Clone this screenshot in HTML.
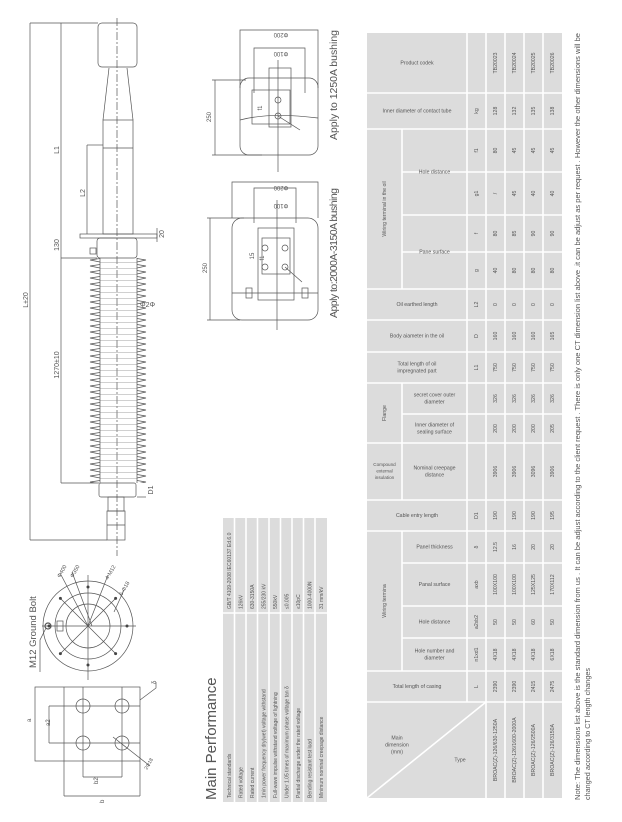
<!DOCTYPE html>
<html><head><meta charset="utf-8"><style>
html,body{margin:0;padding:0;background:#fff}
svg{display:block}
text{font-family:"Liberation Sans",sans-serif;fill:#555}
.t{font-size:5.2px;text-anchor:middle;dominant-baseline:middle}
.d{stroke:#555;stroke-width:.7;fill:none}
.w{stroke:#fff;stroke-width:1.6}
</style></head><body>
<svg width="622" height="822" viewBox="0 0 622 822" xmlns="http://www.w3.org/2000/svg">
<defs>
<pattern id="shed" patternUnits="userSpaceOnUse" x="88" y="258" width="60" height="6">
<path d="M12 0.5 L2 2 L12 4" stroke="#555" stroke-width=".7" fill="none"/>
<path d="M49 0.5 L58 2 L49 4" stroke="#555" stroke-width=".7" fill="none"/>
<line x1="12" y1="4.5" x2="49" y2="4.5" stroke="#888" stroke-width=".4"/>
</pattern>
</defs>

<!-- ===== bushing drawing ===== -->
<g class="d">
<line x1="117" y1="18" x2="117" y2="556" stroke-dasharray="8 2 2 2"/>
<rect x="98" y="23" width="39" height="44" rx="4"/>
<path d="M109 68 L103 120 M127 68 L133 120"/>
<rect x="103" y="120" width="30" height="114"/>
<line x1="103" y1="148" x2="133" y2="148"/>
<rect x="80" y="234" width="77" height="4"/>
<rect x="97" y="238" width="40" height="20" rx="3"/>
<rect x="90" y="248" width="6" height="6"/>
<rect x="88" y="258" width="60" height="225" fill="url(#shed)" stroke="none"/>
<line x1="100" y1="258" x2="100" y2="483"/><line x1="137" y1="258" x2="137" y2="483"/>
<rect x="99" y="483" width="37" height="14" rx="2"/>
<rect x="108" y="497" width="16" height="14"/>
<rect x="107" y="511" width="18" height="29"/>
<line x1="107" y1="525" x2="125" y2="525"/>
<!-- dims -->
<line x1="30" y1="23" x2="30" y2="540"/><line x1="30" y1="23" x2="98" y2="23"/><line x1="30" y1="540" x2="107" y2="540"/>
<line x1="61" y1="23" x2="61" y2="483"/><line x1="61" y1="258" x2="97" y2="258"/><line x1="61" y1="483" x2="99" y2="483"/>
<line x1="87" y1="145" x2="87" y2="234"/><line x1="87" y1="145" x2="103" y2="145"/>
<line x1="157" y1="228" x2="157" y2="242"/>
<line x1="137" y1="497" x2="146" y2="497"/>
</g>
<g font-size="7">
<text transform="translate(30,300) rotate(-90)" text-anchor="middle" dy="-2">L±20</text>
<text transform="translate(61,150) rotate(-90)" text-anchor="middle" dy="-2">L1</text>
<text transform="translate(61,245) rotate(-90)" text-anchor="middle" dy="-2">130</text>
<text transform="translate(61,365) rotate(-90)" text-anchor="middle" dy="-2">1270±10</text>
<text transform="translate(87,193) rotate(-90)" text-anchor="middle" dy="-2">L2</text>
<text transform="translate(157,234) rotate(-90)" text-anchor="middle" dy="7">20</text>
<text transform="translate(146,490) rotate(-90)" text-anchor="middle" dy="7">D1</text>
<text x="140" y="307">Φ2Φ</text>
</g>

<!-- ===== flange view ===== -->
<g class="d">
<circle cx="88" cy="626" r="45"/><circle cx="88" cy="626" r="33"/><circle cx="88" cy="626" r="22"/>
<line x1="42" y1="626" x2="136" y2="626"/><line x1="88" y1="575" x2="88" y2="680"/>
<line x1="60" y1="598" x2="116" y2="654"/><line x1="116" y1="598" x2="60" y2="654"/>
<line x1="60" y1="573" x2="88" y2="626"/><line x1="72" y1="572" x2="92" y2="626"/>
<line x1="108" y1="575" x2="88" y2="626"/><line x1="124" y1="590" x2="114" y2="612"/>
<rect x="57" y="621" width="6" height="10"/>
<circle cx="48" cy="626" r="3" stroke-width="1.2"/>
<path d="M46 628 L40 640 L40 672"/>
</g>
<g fill="#444">
<circle cx="127" cy="626" r="1.5"/><circle cx="49" cy="626" r="1.5"/><circle cx="88" cy="587" r="1.5"/><circle cx="88" cy="665" r="1.5"/>
<circle cx="115.6" cy="598.4" r="1.5"/><circle cx="60.4" cy="598.4" r="1.5"/><circle cx="115.6" cy="653.6" r="1.5"/><circle cx="60.4" cy="653.6" r="1.5"/>
</g>
<g font-size="5.5">
<text transform="translate(60,578) rotate(-60)">Φ400</text>
<text transform="translate(73,578) rotate(-60)">Φ350</text>
<text transform="translate(108,580) rotate(-60)">4-M12</text>
<text transform="translate(122,596) rotate(-60)">6-Φ18</text>
</g>
<text transform="translate(36,668) rotate(-90)" font-size="9.5" fill="#333">M12 Ground Bolt</text>

<!-- ===== plate view ===== -->
<g class="d">
<rect x="35" y="687" width="105" height="74"/>
<line x1="64" y1="687" x2="64" y2="796"/><line x1="83" y1="687" x2="83" y2="777"/>
<line x1="122" y1="687" x2="122" y2="777"/><line x1="140" y1="761" x2="140" y2="796"/>
<line x1="49" y1="706" x2="140" y2="706"/><line x1="49" y1="743" x2="140" y2="743"/>
<line x1="49" y1="706" x2="49" y2="743"/>
<line x1="83" y1="777" x2="122" y2="777"/><line x1="64" y1="796" x2="140" y2="796"/>
<circle cx="83" cy="706" r="7"/><circle cx="122" cy="706" r="7"/><circle cx="83" cy="743" r="7"/><circle cx="122" cy="743" r="7"/>
<line x1="113" y1="737" x2="150" y2="766"/>
<path d="M140 700 L156 688 L156 682"/>
</g>
<g font-size="6">
<text transform="translate(31,722) rotate(-90)">a</text>
<text transform="translate(50,726) rotate(-90)">a2</text>
<text transform="translate(98,784) rotate(-90)">b2</text>
<text transform="translate(104,803) rotate(-90)">b</text>
<text transform="translate(156,684) rotate(-90)">δ</text>
<text transform="translate(147,770) rotate(-60)" font-size="5">2Φ18</text>
</g>

<!-- ===== terminal views ===== -->
<g class="d">
<path d="M240 88 L240 30 L318 30 L318 88"/>
<rect x="240" y="78" width="78" height="77" rx="9"/>
<path d="M254 93 L254 48 L305 48 L305 93"/>
<rect x="269" y="68" width="22" height="59"/>
<rect x="252" y="90" width="38" height="34"/>
<path d="M240 120 Q270 112 318 118"/>
<circle cx="278" cy="100" r="3"/><circle cx="278" cy="116" r="3"/>
<line x1="278" y1="60" x2="278" y2="172"/>
<line x1="215" y1="80" x2="215" y2="155"/><line x1="212" y1="80" x2="246" y2="80"/><line x1="212" y1="155" x2="262" y2="155"/>
<line x1="278" y1="116" x2="300" y2="130"/>

<path d="M232 218 L232 182 L318 182 L318 218"/>
<rect x="232" y="218" width="86" height="102" rx="10"/>
<path d="M254 223 L254 188 L296 188 L296 223"/>
<rect x="258" y="228" width="36" height="72"/>
<rect x="262" y="238" width="28" height="36"/>
<circle cx="265" cy="248" r="3"/><circle cx="285" cy="248" r="3"/><circle cx="265" cy="267" r="3"/><circle cx="285" cy="267" r="3"/>
<rect x="246" y="288" width="6" height="10"/><rect x="302" y="288" width="6" height="10"/>
<line x1="232" y1="293" x2="318" y2="293"/>
<line x1="277" y1="200" x2="277" y2="330"/>
<line x1="210" y1="218" x2="210" y2="320"/><line x1="207" y1="218" x2="244" y2="218"/><line x1="207" y1="320" x2="240" y2="320"/>
<line x1="285" y1="267" x2="302" y2="282"/>
</g>
<g font-size="6">
<text transform="translate(281,33) rotate(180)" text-anchor="middle">Φ200</text>
<text transform="translate(281,52) rotate(180)" text-anchor="middle">Φ100</text>
<text transform="translate(281,186) rotate(180)" text-anchor="middle">Φ200</text>
<text transform="translate(281,204) rotate(180)" text-anchor="middle">Φ100</text>
<text transform="translate(213,117) rotate(-90)" text-anchor="middle" dy="-2">250</text>
<text transform="translate(209,268) rotate(-90)" text-anchor="middle" dy="-2">250</text>
<text transform="translate(262,108) rotate(-90)" text-anchor="middle">f1</text>
<text transform="translate(264,258) rotate(-90)" text-anchor="middle">f1</text>
<text transform="translate(254,256) rotate(-90)" text-anchor="middle">15</text>
</g>
<text transform="translate(337,140) rotate(-90)" font-size="10.5" fill="#333" textLength="110">Apply to 1250A bushing</text>
<text transform="translate(337,318) rotate(-90)" font-size="10.5" fill="#333" textLength="130">Apply to:2000A-3150A bushing</text>

<!-- ===== Main Performance ===== -->
<text transform="translate(216,800) rotate(-90)" font-size="15" fill="#333">Main Performance</text>
<rect x="223" y="518" width="104" height="284" fill="#dcdcdc"/>
<g class="w">
<line x1="223" y1="613" x2="327" y2="613"/>
<line x1="234.5" y1="518" x2="234.5" y2="802"/><line x1="246" y1="518" x2="246" y2="802"/>
<line x1="257.5" y1="518" x2="257.5" y2="802"/><line x1="269" y1="518" x2="269" y2="802"/>
<line x1="280.5" y1="518" x2="280.5" y2="802"/><line x1="292" y1="518" x2="292" y2="802"/>
<line x1="303.5" y1="518" x2="303.5" y2="802"/><line x1="315" y1="518" x2="315" y2="802"/>
</g>
<g font-size="5">
<text transform="translate(231,798) rotate(-90)">Technical standards</text>
<text transform="translate(242.5,798) rotate(-90)">Rated voltage</text>
<text transform="translate(254,798) rotate(-90)">Rated current</text>
<text transform="translate(265.5,798) rotate(-90)">1min power frequency dry(wet) voltage withstand</text>
<text transform="translate(277,798) rotate(-90)">Full-wave impulse withstand voltage of lightning</text>
<text transform="translate(288.5,798) rotate(-90)">Under 1.05 times of maximum phase voltage tan δ</text>
<text transform="translate(300,798) rotate(-90)">Partial discharge under the rated voltage</text>
<text transform="translate(311.5,798) rotate(-90)">Bending resistant test load</text>
<text transform="translate(323,798) rotate(-90)">Minimum nominal creepage distance</text>
<text transform="translate(231,609) rotate(-90)">GB/T 4109-2008 IEC60137 Ed.6.0</text>
<text transform="translate(242.5,609) rotate(-90)">126kV</text>
<text transform="translate(254,609) rotate(-90)">630-3150A</text>
<text transform="translate(265.5,609) rotate(-90)">255/230 kV</text>
<text transform="translate(277,609) rotate(-90)">550kV</text>
<text transform="translate(288.5,609) rotate(-90)">≤0.005</text>
<text transform="translate(300,609) rotate(-90)">≤10pC</text>
<text transform="translate(311.5,609) rotate(-90)">1000-4000N</text>
<text transform="translate(323,609) rotate(-90)">31 mm/kV</text>
</g>

<!-- ===== Big table ===== -->
<rect x="367" y="33" width="195" height="765" fill="#dcdcdc"/>
<g class="w">
<line x1="467" y1="33" x2="467" y2="702"/>
<line x1="486" y1="33" x2="486" y2="798"/><line x1="505" y1="33" x2="505" y2="798"/>
<line x1="524" y1="33" x2="524" y2="798"/><line x1="543" y1="33" x2="543" y2="798"/>
<line x1="402" y1="129" x2="402" y2="289"/><line x1="402" y1="383" x2="402" y2="500"/><line x1="402" y1="531" x2="402" y2="671"/>
<line x1="367" y1="93" x2="562" y2="93"/><line x1="367" y1="129" x2="562" y2="129"/>
<line x1="367" y1="289" x2="562" y2="289"/><line x1="367" y1="320" x2="562" y2="320"/>
<line x1="367" y1="352" x2="562" y2="352"/><line x1="367" y1="383" x2="562" y2="383"/>
<line x1="367" y1="443" x2="562" y2="443"/><line x1="367" y1="500" x2="562" y2="500"/>
<line x1="367" y1="531" x2="562" y2="531"/><line x1="367" y1="671" x2="562" y2="671"/>
<line x1="367" y1="702" x2="562" y2="702"/>
<line x1="402" y1="172" x2="562" y2="172"/><line x1="402" y1="215" x2="562" y2="215"/>
<line x1="402" y1="252" x2="562" y2="252"/><line x1="402" y1="414" x2="562" y2="414"/>
<line x1="402" y1="563" x2="562" y2="563"/><line x1="402" y1="606" x2="562" y2="606"/>
<line x1="402" y1="638" x2="562" y2="638"/>
<line x1="367" y1="798" x2="486" y2="702"/>
</g>
<g class="t">
<text x="417" y="63">Product codek</text>
<text x="417" y="111">Inner diameter of contact tube</text>
<text transform="translate(384.5,209) rotate(-90)">Wiring terminal in the oil</text>
<text x="434.5" y="172">Hole distance</text>
<text x="434.5" y="252">Pane surface</text>
<text x="417" y="304.5">Oil earthed length</text>
<text x="417" y="336">Body aiameter in the oil</text>
<text x="417" y="364">Total length of oil</text><text x="417" y="371">impregnated  part</text>
<text transform="translate(384.5,413) rotate(-90)">Flange</text>
<text x="434.5" y="395">secret cover outer</text><text x="434.5" y="402">diameter</text>
<text x="434.5" y="425">Inner diameter of</text><text x="434.5" y="432">sealing surface</text>
<text x="384.5" y="465" font-size="4.6">Compound</text><text x="384.5" y="471.5" font-size="4.6">external</text><text x="384.5" y="478" font-size="4.6">insulation</text>
<text x="434.5" y="468">Nominal creepage</text><text x="434.5" y="475">distance</text>
<text x="417" y="515.5">Cable entry length</text>
<text x="434.5" y="547">Panel thickness</text>
<text x="434.5" y="584.5">Panal surface</text>
<text x="434.5" y="622">Hole distance</text>
<text x="434.5" y="651">Hole number and</text><text x="434.5" y="658">diameter</text>
<text transform="translate(384.5,601) rotate(-90)">Wiring termina</text>
<text x="417" y="686.5">Total length of casing</text>
<text x="397" y="738">Main</text><text x="397" y="745">dimension</text><text x="397" y="752">(mm)</text>
<text x="460" y="760">Type</text>
</g>
<g class="t">
<!-- symbols -->
<g transform="translate(476.5,0)">
<text transform="translate(0,686.5) rotate(-90)">L</text>
<text transform="translate(0,654.5) rotate(-90)">n1xd1</text>
<text transform="translate(0,622) rotate(-90)">a2xb2</text>
<text transform="translate(0,584.5) rotate(-90)">axb</text>
<text transform="translate(0,547) rotate(-90)">δ</text>
<text transform="translate(0,515.5) rotate(-90)">D1</text>
<text transform="translate(0,367.5) rotate(-90)">L1</text>
<text transform="translate(0,336) rotate(-90)">D</text>
<text transform="translate(0,304.5) rotate(-90)">L2</text>
<text transform="translate(0,270.5) rotate(-90)">g</text>
<text transform="translate(0,233.5) rotate(-90)">f</text>
<text transform="translate(0,193.5) rotate(-90)">g1</text>
<text transform="translate(0,150.5) rotate(-90)">f1</text>
<text transform="translate(0,111) rotate(-90)">kg</text>
</g>
<g transform="translate(495.5,0)">
<text transform="translate(0,750) rotate(-90)">BROAC(Z)-126/630-1250A</text>
<text transform="translate(0,686.5) rotate(-90)">2390</text>
<text transform="translate(0,654.5) rotate(-90)">4X18</text>
<text transform="translate(0,622) rotate(-90)">50</text>
<text transform="translate(0,584.5) rotate(-90)">100X100</text>
<text transform="translate(0,547) rotate(-90)">12.5</text>
<text transform="translate(0,515.5) rotate(-90)">190</text>
<text transform="translate(0,471.5) rotate(-90)">3906</text>
<text transform="translate(0,428.5) rotate(-90)">200</text>
<text transform="translate(0,398.5) rotate(-90)">326</text>
<text transform="translate(0,367.5) rotate(-90)">750</text>
<text transform="translate(0,336) rotate(-90)">160</text>
<text transform="translate(0,304.5) rotate(-90)">0</text>
<text transform="translate(0,270.5) rotate(-90)">40</text>
<text transform="translate(0,233.5) rotate(-90)">80</text>
<text transform="translate(0,193.5) rotate(-90)">/</text>
<text transform="translate(0,150.5) rotate(-90)">80</text>
<text transform="translate(0,111) rotate(-90)">128</text>
<text transform="translate(0,63) rotate(-90)">TB20023</text>
</g>
<g transform="translate(514.5,0)">
<text transform="translate(0,750) rotate(-90)">BROAC(Z)-126/1600-2000A</text>
<text transform="translate(0,686.5) rotate(-90)">2390</text>
<text transform="translate(0,654.5) rotate(-90)">4X18</text>
<text transform="translate(0,622) rotate(-90)">50</text>
<text transform="translate(0,584.5) rotate(-90)">100X100</text>
<text transform="translate(0,547) rotate(-90)">16</text>
<text transform="translate(0,515.5) rotate(-90)">190</text>
<text transform="translate(0,471.5) rotate(-90)">3906</text>
<text transform="translate(0,428.5) rotate(-90)">200</text>
<text transform="translate(0,398.5) rotate(-90)">326</text>
<text transform="translate(0,367.5) rotate(-90)">750</text>
<text transform="translate(0,336) rotate(-90)">160</text>
<text transform="translate(0,304.5) rotate(-90)">0</text>
<text transform="translate(0,270.5) rotate(-90)">80</text>
<text transform="translate(0,233.5) rotate(-90)">85</text>
<text transform="translate(0,193.5) rotate(-90)">45</text>
<text transform="translate(0,150.5) rotate(-90)">45</text>
<text transform="translate(0,111) rotate(-90)">132</text>
<text transform="translate(0,63) rotate(-90)">TB20024</text>
</g>
<g transform="translate(533.5,0)">
<text transform="translate(0,750) rotate(-90)">BROAC(Z)-126/2500A</text>
<text transform="translate(0,686.5) rotate(-90)">2415</text>
<text transform="translate(0,654.5) rotate(-90)">4X18</text>
<text transform="translate(0,622) rotate(-90)">60</text>
<text transform="translate(0,584.5) rotate(-90)">125X125</text>
<text transform="translate(0,547) rotate(-90)">20</text>
<text transform="translate(0,515.5) rotate(-90)">190</text>
<text transform="translate(0,471.5) rotate(-90)">3096</text>
<text transform="translate(0,428.5) rotate(-90)">200</text>
<text transform="translate(0,398.5) rotate(-90)">326</text>
<text transform="translate(0,367.5) rotate(-90)">750</text>
<text transform="translate(0,336) rotate(-90)">160</text>
<text transform="translate(0,304.5) rotate(-90)">0</text>
<text transform="translate(0,270.5) rotate(-90)">80</text>
<text transform="translate(0,233.5) rotate(-90)">90</text>
<text transform="translate(0,193.5) rotate(-90)">40</text>
<text transform="translate(0,150.5) rotate(-90)">45</text>
<text transform="translate(0,111) rotate(-90)">135</text>
<text transform="translate(0,63) rotate(-90)">TB20025</text>
</g>
<g transform="translate(552.5,0)">
<text transform="translate(0,750) rotate(-90)">BROAC(Z)-126/3150A</text>
<text transform="translate(0,686.5) rotate(-90)">2475</text>
<text transform="translate(0,654.5) rotate(-90)">6X18</text>
<text transform="translate(0,622) rotate(-90)">50</text>
<text transform="translate(0,584.5) rotate(-90)">170X112</text>
<text transform="translate(0,547) rotate(-90)">20</text>
<text transform="translate(0,515.5) rotate(-90)">195</text>
<text transform="translate(0,471.5) rotate(-90)">3906</text>
<text transform="translate(0,428.5) rotate(-90)">205</text>
<text transform="translate(0,398.5) rotate(-90)">326</text>
<text transform="translate(0,367.5) rotate(-90)">750</text>
<text transform="translate(0,336) rotate(-90)">165</text>
<text transform="translate(0,304.5) rotate(-90)">0</text>
<text transform="translate(0,270.5) rotate(-90)">80</text>
<text transform="translate(0,233.5) rotate(-90)">90</text>
<text transform="translate(0,193.5) rotate(-90)">40</text>
<text transform="translate(0,150.5) rotate(-90)">45</text>
<text transform="translate(0,111) rotate(-90)">138</text>
<text transform="translate(0,63) rotate(-90)">TB20026</text>
</g>
</g>

<!-- note -->
<text transform="translate(580,800) rotate(-90)" font-size="7" fill="#333" textLength="767" lengthAdjust="spacingAndGlyphs">Note: The dimensions list above is the standard dimension from us . It can be adjust according to the client request . There is only one CT dimension  list above .it can be adjust as per request . However the other dimensions will be</text>
<text transform="translate(590,800) rotate(-90)" font-size="7" fill="#333" textLength="132" lengthAdjust="spacingAndGlyphs">changed  according to CT length changes</text>
</svg>
</body></html>
